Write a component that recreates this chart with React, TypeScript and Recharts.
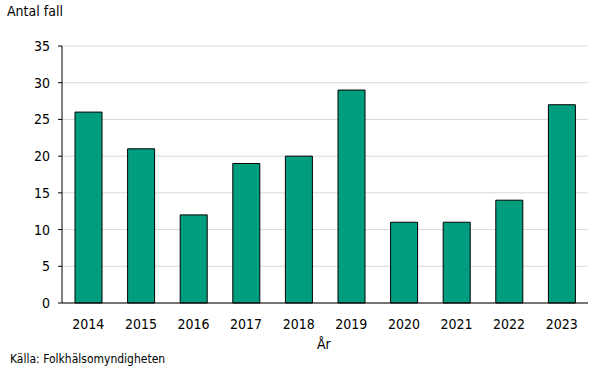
import React from "react";
import { BarChart, Bar, XAxis, YAxis, CartesianGrid } from "recharts";

const years = ["2014", "2015", "2016", "2017", "2018", "2019", "2020", "2021", "2022", "2023"];
const cases = [26, 21, 12, 19, 20, 29, 11, 11, 14, 27];
const yTicks = [0, 5, 10, 15, 20, 25, 30, 35];

const data = years.map((y, i) => ({ year: y, value: cases[i] }));

const FONT = "'DejaVu Sans Condensed', 'DejaVu Sans', sans-serif";

export default function App() {
  return (
    <div style={{ position: "absolute", left: 0, top: 0, width: 606, height: 378, background: "#fff", fontFamily: FONT }}>
      <BarChart width={606} height={378} data={data} margin={{ top: 46, right: 18, left: 0, bottom: 45 }}>
        <CartesianGrid horizontal={true} vertical={false} stroke="#d9d9d9" />
        <XAxis
          dataKey="year"
          tickLine={false}
          axisLine={{ stroke: "#000" }}
          tick={{ fill: "#000", fontSize: 14, fontFamily: FONT }}
          tickMargin={10}
          height={30}
          interval={0}
        />
        <YAxis
          domain={[0, 35]}
          ticks={yTicks}
          width={62}
          axisLine={{ stroke: "#000" }}
          tickLine={{ stroke: "#000" }}
          tickSize={4}
          tickMargin={8}
          tick={{ fill: "#000", fontSize: 14, fontFamily: FONT }}
          interval={0}
        />
        <Bar dataKey="value" fill="#009E7E" stroke="#000" strokeWidth={1} barSize={27} isAnimationActive={false} />
      </BarChart>
      <div style={{ position: "absolute", left: 7, top: 3, fontSize: 14, color: "#000", whiteSpace: "nowrap" }}>Antal fall</div>
      <div style={{ position: "absolute", left: 317, top: 336, fontSize: 14, color: "#000", whiteSpace: "nowrap" }}>År</div>
      <div style={{ position: "absolute", left: 10, top: 352, fontSize: 12, color: "#000", whiteSpace: "nowrap" }}>Källa: Folkhälsomyndigheten</div>
    </div>
  );
}
